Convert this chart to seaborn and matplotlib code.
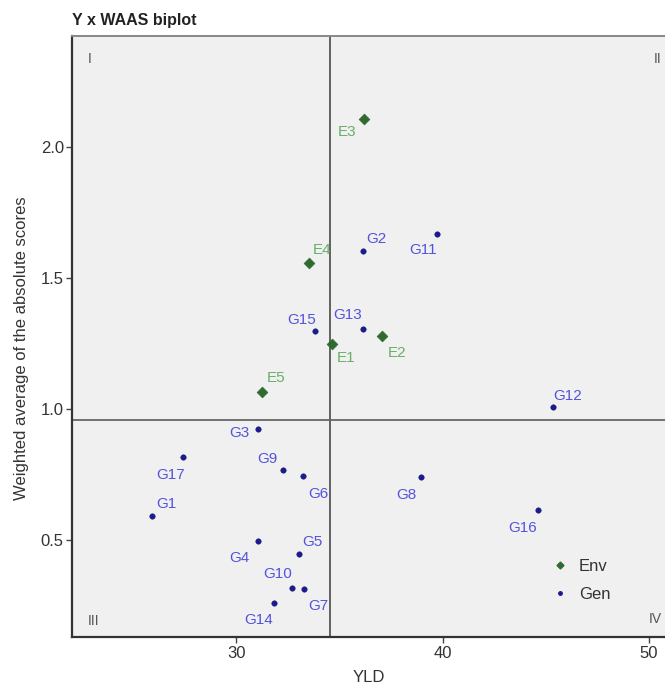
import matplotlib
matplotlib.use("Agg")
import matplotlib.pyplot as plt
import seaborn as sns
import pandas as pd
from matplotlib.lines import Line2D

# ---- data ----
env_names = ["E1", "E2", "E3", "E4", "E5"]
env_yld = [34.65, 37.04, 36.17, 33.51, 31.26]
env_waas = [1.249, 1.277, 2.107, 1.558, 1.064]

gen_names = ["G1", "G2", "G3", "G4", "G5", "G6", "G7", "G8", "G9", "G10",
             "G11", "G12", "G13", "G14", "G15", "G16", "G17"]
gen_yld = [25.93, 36.14, 31.05, 31.05, 33.04, 33.23, 33.29, 38.96, 32.26, 32.68,
           39.72, 45.36, 36.14, 31.81, 33.83, 44.63, 27.42]
gen_waas = [0.591, 1.604, 0.923, 0.496, 0.447, 0.745, 0.314, 0.740, 0.767, 0.319,
            1.668, 1.007, 1.306, 0.261, 1.298, 0.614, 0.817]

mean_yld = 34.54
mean_waas = 0.958

quadrant_labels = ["I", "II", "III", "IV"]

# label offsets in points (layout only)
label_offsets = {
    "E1": (10, -10), "E2": (11, -12), "E3": (-12, -10), "E4": (10, 9), "E5": (10, 10),
    "G1": (10, 9), "G2": (10, 8), "G3": (-13, -3), "G4": (-13, -12), "G5": (10, 9),
    "G6": (11, -13), "G7": (10, -12), "G8": (-11, -13), "G9": (-11, 8), "G10": (-10, 10),
    "G11": (-10, -12), "G12": (10, 8), "G13": (-11, 10), "G14": (-11, -12),
    "G15": (-10, 8), "G16": (-11, -13), "G17": (-9, -13),
}

df = pd.DataFrame({
    "name": env_names + gen_names,
    "YLD": env_yld + gen_yld,
    "WAAS": env_waas + gen_waas,
    "type": ["Env"] * len(env_names) + ["Gen"] * len(gen_names),
})

sns.set_theme(style="white")
plt.rcParams["font.family"] = ["Liberation Sans", "DejaVu Sans"]

fig = plt.figure(figsize=(6.65, 6.91), dpi=100)
ax = fig.add_axes([0.1084, 0.0777, 0.8916, 0.8703])
ax.set_facecolor("#f0f0f0")

env_pt = "#2f6a2f"
env_lab = "#6aae6a"
gen_pt = "#1b1b8a"
gen_lab = "#5353dc"

ax.axvline(mean_yld, color="#555555", lw=1.3, zorder=1)
ax.axhline(mean_waas, color="#666666", lw=1.3, zorder=1)

sns.scatterplot(data=df[df["type"] == "Env"], x="YLD", y="WAAS", ax=ax,
                marker="D", s=30, color=env_pt, edgecolor=env_pt, linewidth=0.5,
                zorder=3, legend=False)
sns.scatterplot(data=df[df["type"] == "Gen"], x="YLD", y="WAAS", ax=ax,
                marker="o", s=16, color=gen_pt, edgecolor=gen_pt, linewidth=0.3,
                zorder=3, legend=False)

for _, r in df.iterrows():
    dx, dy = label_offsets[r["name"]]
    col = env_lab if r["type"] == "Env" else gen_lab
    ax.annotate(r["name"], (r["YLD"], r["WAAS"]), xytext=(dx, dy),
                textcoords="offset points", ha="center", va="center",
                fontsize=11, color=col, zorder=4)

ax.set_xlim(22.05, 50.77)
ax.set_ylim(0.130, 2.422)
ax.set_xticks([30, 40, 50])
ax.set_yticks([0.5, 1.0, 1.5, 2.0])
ax.set_yticklabels(["0.5", "1.0", "1.5", "2.0"])
ax.tick_params(axis="both", which="both", direction="out", length=4, width=1,
               color="#444444", labelsize=12, labelcolor="#333333", pad=2,
               left=True, bottom=True)

for side in ["left", "bottom"]:
    ax.spines[side].set_color("#333333")
    ax.spines[side].set_linewidth(1.6)
ax.spines["top"].set_color("#888888")
ax.spines["top"].set_linewidth(1.4)
ax.spines["right"].set_visible(False)

ax.set_xlabel("YLD", fontsize=12, color="#333333", labelpad=7)
ax.set_ylabel("Weighted average of the absolute scores", fontsize=12,
              color="#333333")
ax.yaxis.set_label_coords(-0.072, 0.48)

# quadrant labels
ax.text(0.03, 0.962, quadrant_labels[0], transform=ax.transAxes, fontsize=10,
        color="#555555", ha="center", va="center")
ax.text(0.988, 0.962, quadrant_labels[1], transform=ax.transAxes, fontsize=10,
        color="#555555", ha="center", va="center")
ax.text(0.036, 0.027, quadrant_labels[2], transform=ax.transAxes, fontsize=10,
        color="#555555", ha="center", va="center")
ax.text(0.983, 0.031, quadrant_labels[3], transform=ax.transAxes, fontsize=10,
        color="#555555", ha="center", va="center")

handles = [
    Line2D([], [], marker="D", linestyle="none", color=env_pt, markersize=3.5),
    Line2D([], [], marker="o", linestyle="none", color=gen_pt, markersize=2.5),
]
ax.legend(handles, ["Env", "Gen"], loc="lower left", bbox_to_anchor=(0.79, 0.04),
          frameon=False, fontsize=12, handlelength=1.0, handletextpad=0.6,
          labelspacing=0.75, labelcolor="#333333", borderpad=0.2)

fig.text(0.109, 0.971, "Y x WAAS biplot", fontsize=11.5, fontweight="bold",
         color="#222222", ha="left", va="center")

fig.savefig("out.png", dpi=100, facecolor="white")
